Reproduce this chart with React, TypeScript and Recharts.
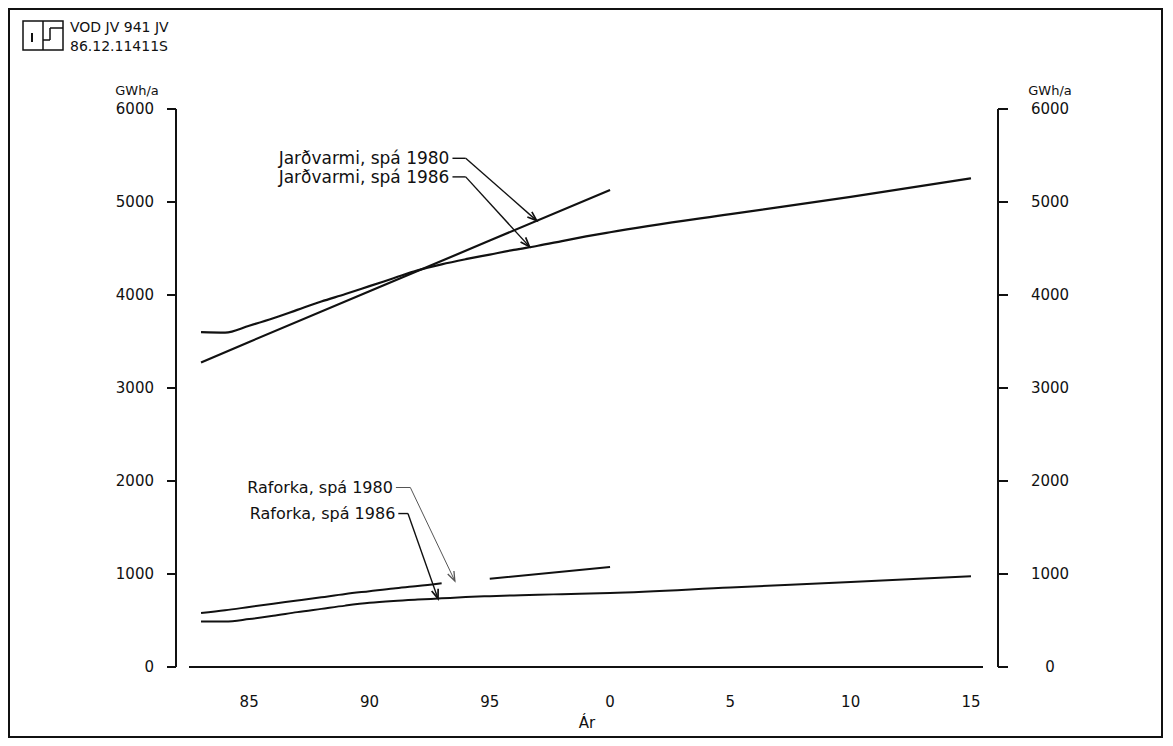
import React from "react";
import { LineChart, Line, XAxis, YAxis, ReferenceLine } from "recharts";

// years are plotted at mid-year (year + 0.5), ticks mark the year boundaries
const yearBounds = [
  1983, 1984, 1985, 1986, 1987, 1988, 1989, 1990, 1991, 1992, 1993, 1994, 1995, 1996, 1997, 1998, 1999,
  2000, 2001, 2002, 2003, 2004, 2005, 2006, 2007, 2008, 2009, 2010, 2011, 2012, 2013, 2014, 2015, 2016,
];
const labelYears = [1985, 1990, 1995, 2000, 2005, 2010, 2015];
const labelTexts = ["85", "90", "95", "0", "5", "10", "15"];
const yTicks = [0, 1000, 2000, 3000, 4000, 5000, 6000];

// Jarðvarmi, spá 1986
const geo86Years = [1983, 1984, 1985, 1986, 1987, 1988, 1989, 1990, 1991, 1992, 1993, 1994, 1995, 1996, 1997, 1998, 1999, 2000, 2005, 2010, 2015];
const geo86 = [3600, 3595, 3670, 3750, 3840, 3930, 4010, 4095, 4180, 4265, 4330, 4385, 4435, 4485, 4530, 4580, 4630, 4675, 4870, 5055, 5255];

// Jarðvarmi, spá 1980
const geo80Years = [1983, 1985, 1990, 1995, 2000];
const geo80 = [3275, 3495, 4040, 4585, 5130];

// Raforka, spá 1980 (break where the arrow comes in)
const pow80Years = [1983, 1984, 1985, 1986, 1987, 1988, 1989, 1990, 1991, 1992, 1993, 1994, 1995, 2000];
const pow80 = [580, 610, 645, 680, 715, 750, 785, 815, 845, 870, 900, null, 950, 1075];

// Raforka, spá 1986
const pow86Years = [1983, 1984, 1985, 1986, 1987, 1988, 1989, 1990, 1991, 1992, 1993, 1994, 1995, 1996, 1997, 1998, 2000, 2005, 2010, 2015];
const pow86 = [490, 488, 515, 550, 590, 625, 660, 690, 710, 725, 738, 752, 762, 770, 777, 783, 795, 855, 915, 975];

const toPoints = (ys: number[], vs: (number | null)[]) => ys.map((y, i) => ({ x: y + 0.5, v: vs[i] }));

// annotation leaders, in chart coordinates
const notes = [
  { text: "Jarðvarmi, spá 1980", from: 1993.95, bend: 1994.5, level: 5470, tipX: 1997.45, tipV: 4800, size: 17, ink: "#111", w: 1.4 },
  { text: "Jarðvarmi, spá 1986", from: 1993.95, bend: 1994.5, level: 5270, tipX: 1997.15, tipV: 4520, size: 17, ink: "#111", w: 1.4 },
  { text: "Raforka, spá 1980", from: 1991.6, bend: 1992.2, level: 1930, tipX: 1994.05, tipV: 925, size: 16, ink: "#555", w: 1 },
  { text: "Raforka, spá 1986", from: 1991.7, bend: 1992.1, level: 1650, tipX: 1993.35, tipV: 735, size: 16, ink: "#111", w: 1.4 },
];

const FONT = "'DejaVu Sans', sans-serif";
const INK = "#111";

const makeArrow = (ink: string, w: number) => (p: any) => {
  const { x1, y1, x2, y2 } = p;
  const a = Math.atan2(y2 - y1, x2 - x1);
  const L = 10;
  const s = 0.35;
  const ax = x2 - L * Math.cos(a - s);
  const ay = y2 - L * Math.sin(a - s);
  const bx = x2 - L * Math.cos(a + s);
  const by = y2 - L * Math.sin(a + s);
  return (
    <g>
      <line x1={x1} y1={y1} x2={x2} y2={y2} stroke={ink} strokeWidth={w} />
      <path d={`M${ax},${ay} L${x2},${y2} L${bx},${by}`} fill="none" stroke={ink} strokeWidth={w + 0.3} />
    </g>
  );
};

const rightTick = (p: any) => (
  <text x={p.x + 42} y={p.y} dy="0.36em" textAnchor="middle" fontFamily={FONT} fontSize={15} fill={INK}>
    {p.payload.value}
  </text>
);

const Logo = () => (
  <svg width={46} height={34} style={{ position: "absolute", left: 11, top: 9 }}>
    <rect x={2} y={2} width={40} height={29} fill="none" stroke={INK} strokeWidth={1.5} />
    <line x1={22} y1={2} x2={22} y2={31} stroke={INK} strokeWidth={1.5} />
    <line x1={11} y1={14} x2={11} y2={23} stroke={INK} strokeWidth={2} />
    <line x1={29} y1={9} x2={42} y2={9} stroke={INK} strokeWidth={1.5} />
    <line x1={29} y1={9} x2={29} y2={21} stroke={INK} strokeWidth={1.5} />
    <line x1={22} y1={21} x2={29} y2={21} stroke={INK} strokeWidth={1.5} />
  </svg>
);

export default function App() {
  return (
    <div
      style={{
        position: "relative",
        width: 1155,
        height: 730,
        border: `2px solid ${INK}`,
        boxSizing: "border-box",
        background: "#fff",
        fontFamily: FONT,
      }}
    >
      <Logo />
      <div style={{ position: "absolute", left: 60, top: 8, fontSize: 14, lineHeight: "19px", color: INK }}>
        <div>VOD JV 941 JV</div>
        <div>86.12.11411S</div>
      </div>
      <LineChart width={1151} height={726} margin={{ top: 99, left: 88, right: 59, bottom: 5 }}>
        <XAxis
          xAxisId="yr"
          dataKey="x"
          type="number"
          domain={[1983, 2016]}
          ticks={yearBounds}
          tick={false}
          tickSize={10}
          tickLine={{ stroke: INK, strokeWidth: 1.5 }}
          axisLine={false}
          height={12}
          padding={{ left: 13, right: 15 }}
          allowDataOverflow
        />
        <XAxis
          xAxisId="lab"
          dataKey="x"
          type="number"
          domain={[1983, 2016]}
          ticks={labelYears.map((y) => y + 0.5)}
          tickFormatter={(v: number) => labelTexts[labelYears.indexOf(Math.floor(v))]}
          tick={{ fontSize: 15, fill: INK, fontFamily: FONT }}
          tickLine={false}
          tickSize={8}
          tickMargin={21}
          axisLine={false}
          height={52}
          padding={{ left: 13, right: 15 }}
          label={{ value: "Ár", position: "insideBottom", offset: -9, fontSize: 15, fill: INK, fontFamily: FONT }}
          allowDataOverflow
        />
        <YAxis
          yAxisId="l"
          domain={[0, 6000]}
          ticks={yTicks}
          width={78}
          tickSize={9}
          tickMargin={13}
          tick={{ fontSize: 15, fill: INK, fontFamily: FONT }}
          axisLine={{ stroke: INK, strokeWidth: 2 }}
          tickLine={{ stroke: INK, strokeWidth: 2 }}
          label={{ value: "GWh/a", position: "top", offset: 14, fontSize: 13, fill: INK, fontFamily: FONT }}
          allowDataOverflow
        />
        <YAxis
          yAxisId="r"
          orientation="right"
          domain={[0, 6000]}
          ticks={yTicks}
          width={104}
          tickSize={10}
          tickMargin={0}
          tick={rightTick}
          axisLine={{ stroke: INK, strokeWidth: 2 }}
          tickLine={{ stroke: INK, strokeWidth: 2 }}
          label={{ value: "GWh/a", position: "top", offset: 14, fontSize: 13, fill: INK, fontFamily: FONT }}
          allowDataOverflow
        />
        <ReferenceLine
          xAxisId="yr"
          yAxisId="l"
          segment={[
            { x: 1983, y: 0 },
            { x: 2016, y: 0 },
          ]}
          stroke={INK}
          strokeWidth={2}
        />
        <Line xAxisId="yr" yAxisId="r" data={toPoints(geo86Years, geo86)} dataKey="v" type="monotone" stroke={INK} strokeWidth={2.2} dot={false} isAnimationActive={false} />
        <Line xAxisId="yr" yAxisId="l" data={toPoints(geo80Years, geo80)} dataKey="v" type="linear" stroke={INK} strokeWidth={2.2} dot={false} isAnimationActive={false} />
        <Line xAxisId="yr" yAxisId="l" data={toPoints(pow80Years, pow80)} dataKey="v" type="monotone" stroke={INK} strokeWidth={2} dot={false} isAnimationActive={false} />
        <Line xAxisId="yr" yAxisId="l" data={toPoints(pow86Years, pow86)} dataKey="v" type="monotone" stroke={INK} strokeWidth={2} dot={false} isAnimationActive={false} />
        {notes.map((n) => (
          <ReferenceLine
            key={n.text + "-h"}
            xAxisId="yr"
            yAxisId="l"
            segment={[
              { x: n.from, y: n.level },
              { x: n.bend, y: n.level },
            ]}
            stroke={n.ink}
            strokeWidth={n.w}
            label={{ value: n.text, position: "left", offset: 3, fontSize: n.size, fill: INK, fontFamily: FONT }}
          />
        ))}
        {notes.map((n) => (
          <ReferenceLine
            key={n.text + "-a"}
            xAxisId="yr"
            yAxisId="l"
            segment={[
              { x: n.bend, y: n.level },
              { x: n.tipX, y: n.tipV },
            ]}
            shape={makeArrow(n.ink, n.w)}
          />
        ))}
      </LineChart>
    </div>
  );
}
